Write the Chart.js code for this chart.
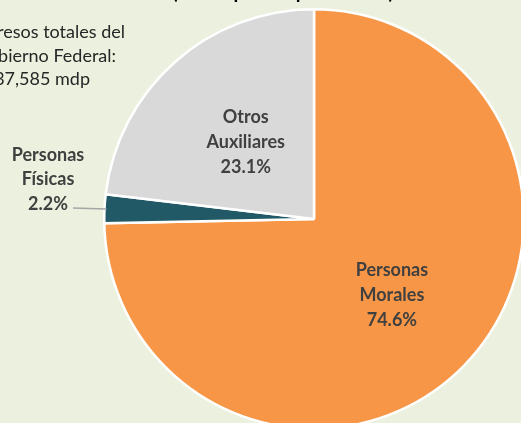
<!DOCTYPE html>
<html>
<head>
<meta charset="utf-8">
<script src="https://cdn.jsdelivr.net/npm/chart.js@4.4.1/dist/chart.umd.min.js"></script>
<style>
  html, body { margin: 0; padding: 0; background: #EBF1DE; }
  #wrap { position: relative; width: 521px; height: 423px; overflow: hidden; }
  #box { position: absolute; left: 0; top: 0; width: 560px; height: 460px; }
</style>
</head>
<body>
<div id="wrap"><div id="box"><canvas id="pie"></canvas></div></div>
<script>
// --- Données ---
const categories = [['Personas', 'Morales'], ['Personas', 'Físicas'], ['Otros', 'Auxiliares']];
const shares = [74.6, 2.2, 23.1];
const colors = ['#F79646', '#215967', '#D9D9D9'];
const titleText = '(Participación porcentual)';
const noteLines = ['Ingresos totales del', 'Gobierno Federal:', '4,837,585 mdp'];

// position du texte de chaque part (fraction du rayon, ou dehors)
const labelPlace = [
    { r: 0.52 },
    { outside: true, x: 48, y: 155 },
    { r: 0.49 }
];

const FONT = 'Lato, "Open Sans", sans-serif';

// plugin maison pour les étiquettes et les textes libres
const labelsPlugin = {
    id: 'pieLabels',
    afterDatasetsDraw(chart) {
        const ctx = chart.ctx;
        const arcs = chart.getDatasetMeta(0).data;
        ctx.save();
        ctx.textAlign = 'center';
        ctx.textBaseline = 'middle';
        ctx.fillStyle = '#404040';
        ctx.font = 'bold 18px ' + FONT;

        arcs.forEach((arc, i) => {
            const p = arc.getProps(['x', 'y', 'startAngle', 'endAngle', 'outerRadius']);
            const mid = (p.startAngle + p.endAngle) / 2;
            const lines = [...categories[i], shares[i].toFixed(1) + '%'];
            const place = labelPlace[i];
            let lx, ly;
            if (place.outside) {
                lx = place.x;
                ly = place.y;
                // trait de rappel
                const ex = p.x + Math.cos(mid) * (p.outerRadius - 2);
                const ey = p.y + Math.sin(mid) * (p.outerRadius - 2);
                ctx.strokeStyle = '#A6A6A6';
                ctx.lineWidth = 1.5;
                ctx.beginPath();
                ctx.moveTo(lx + 25, ly + 53);
                ctx.lineTo(ex, ey);
                ctx.stroke();
                lines.forEach((t, k) => ctx.fillText(t, lx, ly + k * 24.5));
            } else {
                lx = p.x + Math.cos(mid) * p.outerRadius * place.r;
                ly = p.y + Math.sin(mid) * p.outerRadius * place.r;
                lines.forEach((t, k) => ctx.fillText(t, lx, ly + (k - 1) * 25));
            }
        });

        // titre (coupé en haut)
        ctx.fillStyle = '#000000';
        ctx.font = 'bold 19.5px ' + FONT;
        ctx.textBaseline = 'alphabetic';
        ctx.fillText(titleText, 283, -1.5);

        // note à gauche (coupée)
        ctx.fillStyle = '#262626';
        ctx.font = '18px ' + FONT;
        ctx.textAlign = 'right';
        const ends = [125, 116, 90];
        noteLines.forEach((t, k) => ctx.fillText(t, ends[k], 38 + k * 23.5));
        ctx.restore();
    }
};

new Chart(document.getElementById('pie'), {
    type: 'pie',
    data: {
        labels: categories.map(c => c.join(' ')),
        datasets: [{
            data: shares,
            backgroundColor: colors,
            borderColor: '#FFFFFF',
            borderWidth: 2.5
        }]
    },
    options: {
        responsive: true,
        maintainAspectRatio: false,
        animation: false,
        layout: { padding: { left: 103, top: 8, right: 35, bottom: 30 } },
        plugins: {
            legend: { display: false },
            tooltip: { enabled: false }
        }
    },
    plugins: [labelsPlugin]
});
</script>
</body>
</html>
